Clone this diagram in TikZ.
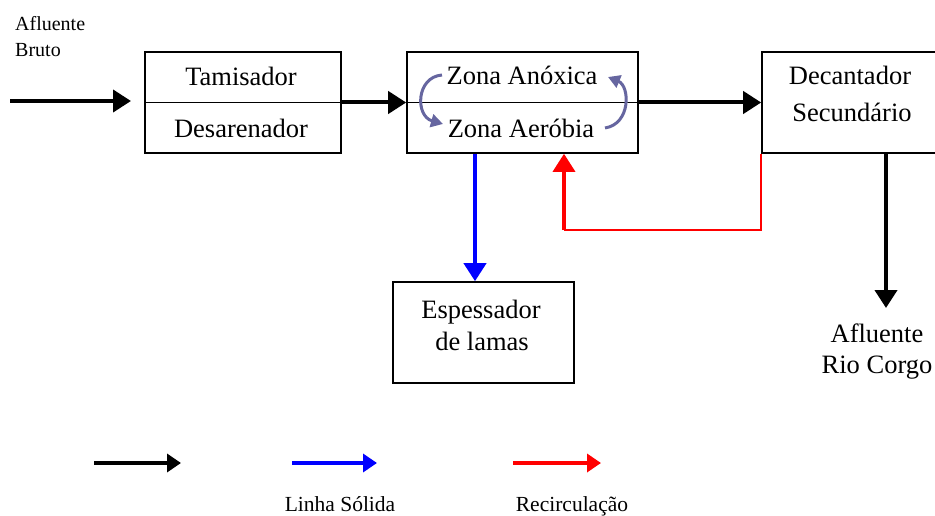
\documentclass[tikz,border=0pt]{standalone}
\usepackage{fontspec}
\setmainfont{Liberation Serif}
\usetikzlibrary{arrows.meta,positioning,calc}
\definecolor{curvcol}{RGB}{102,102,160}

\begin{document}
\begin{tikzpicture}[x=1pt,y=-1pt,
  box/.style={rectangle,draw,line width=1.6pt,inner sep=0pt},
  txt/.style={anchor=base,font=\fontsize{26.5}{30}\selectfont,inner sep=0pt},
  small/.style={anchor=base west,font=\fontsize{20}{24}\selectfont,inner sep=0pt},
  leg/.style={anchor=base,font=\fontsize{21.5}{24}\selectfont,inner sep=0pt},
  flow/.style={-{Triangle[length=18pt,width=22pt]},line width=4pt},
  solflow/.style={flow,blue},
  recthin/.style={red,line width=2pt},
  recflow/.style={flow,red,line width=3.5pt},
  legarrow/.style={-{Triangle[length=14pt,width=18pt]},line width=4.5pt},
  curv/.style={-{Triangle[length=12pt,width=13pt]},line width=3pt,curvcol}
]
\useasboundingbox (0,0) rectangle (935,516);

% Boxes
\node[box,minimum width=196pt,minimum height=101pt] (pre) at (243,102.5) {};
\node[box,minimum width=231pt,minimum height=101pt] (zona) at (522.5,102.5) {};
\node[box,minimum width=180pt,minimum height=101pt] (dec) at (852,102.5) {};
\node[box,minimum width=181pt,minimum height=101pt] (esp) at (483.5,332.5) {};
\draw[line width=1.6pt] (pre.west) -- (pre.east);
\draw[line width=1.6pt] (zona.west) -- (zona.east);

% Texts
\node[txt] (tam) at (241,86) {Tamisador};
\node[txt] (des) at (241,138) {Desarenador};
\node[txt] (ano) at (522,85) {Zona Anóxica};
\node[txt] (aer) at (521,138) {Zona Aeróbia};
\node[txt] (dec1) at (850,85) {Decantador};
\node[txt] (dec2) at (852,122) {Secundário};
\node[txt] (esp1) at (481,318) {Espessador};
\node[txt] (esp2) at (482,350) {de lamas};
\node[txt] (out1) at (877,342) {Afluente};
\node[txt] (out2) at (877,373) {Rio Corgo};
\node[small] (in1) at (15,31) {Afluente};
\node[small] (in2) at (15,57) {Bruto};

% Main flow
\coordinate (in) at (10,101);
\coordinate (inend) at (131,101);
\draw[flow] (in) -- (inend);
\draw[flow] (pre.east) -- (zona.west);
\draw[flow] (zona.east) -- (dec.west);
\coordinate (out) at (886,308);
\draw[flow] (dec.south -| out) -- (out);

% Solid line and recirculation
\draw[solflow] ([xshift=-8.5pt]esp.north |- zona.south) -- ([xshift=-8.5pt]esp.north);
\coordinate (rc) at (564,230);
\draw[recthin] (dec.south west) |- (rc);
\draw[recflow] (rc) -- (rc |- zona.south);

% Anoxic / aerobic cycle
\draw[curv] (442,75) .. controls (416,77) and (415,116) .. (443,124);
\draw[curv] (605,128) .. controls (631,124) and (630,86) .. (608,77);

% Legend
\coordinate (l1a) at (94,463);
\coordinate (l1b) at (181,463);
\coordinate (l2a) at (292,463);
\coordinate (l2b) at (377,463);
\coordinate (l3a) at (513,463);
\coordinate (l3b) at (601,463);
\draw[legarrow] (l1a) -- (l1b);
\draw[legarrow,blue,line width=4pt] (l2a) -- (l2b);
\draw[legarrow,red,line width=3.5pt] (l3a) -- (l3b);
\node[leg] (leg2) at (340,511) {Linha Sólida};
\node[leg] (leg3) at (572,511) {Recirculação};
\end{tikzpicture}
\end{document}
